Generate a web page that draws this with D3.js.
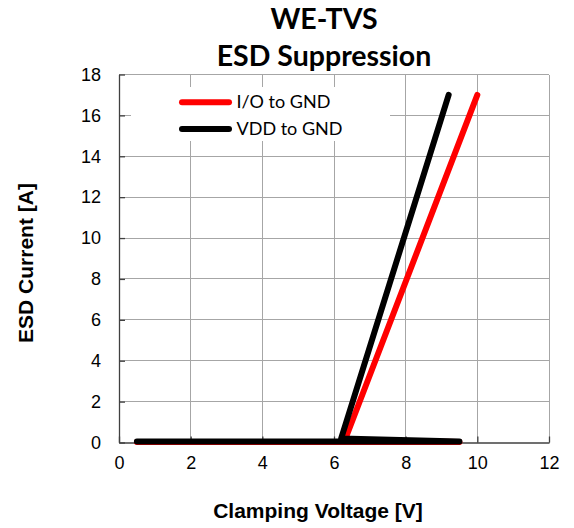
<!DOCTYPE html>
<html>
<head>
<meta charset="utf-8">
<script src="https://cdn.jsdelivr.net/npm/d3@7/dist/d3.min.js"></script>
<style>
  html, body { margin: 0; padding: 0; background: #fff; }
  svg { display: block; }
</style>
</head>
<body>
<svg id="chart" width="574" height="528"></svg>
<script>
// ---- data ----
const titleLines = ["WE-TVS", "ESD Suppression"];
const xTicks = [0, 2, 4, 6, 8, 10, 12];
const yTicks = [0, 2, 4, 6, 8, 10, 12, 14, 16, 18];
const seriesNames = ["I/O to GND", "VDD to GND"];
const seriesColors = ["#ff0000", "#000000"];
// points in drawing order (voltage V, current A)
const ioToGnd = [[0.5, 0.03], [9.5, 0.03], [6.3, 0.1], [10.0, 17.0]];
const vddToGnd = [[0.5, 0.05], [9.5, 0.05], [6.2, 0.2], [9.2, 17.0]];
const xLabel = "Clamping Voltage [V]";
const yLabel = "ESD Current [A]";

// ---- layout ----
const svg = d3.select("#chart");
const L = 119, R = 549, T = 74.5, B = 442.5;
const x = d3.scaleLinear().domain([0, 12]).range([L, R]);
const y = d3.scaleLinear().domain([0, 18]).range([B, T]);

// gridlines
const grid = svg.append("g").attr("stroke", "#a6a6a6").attr("stroke-width", 1).attr("shape-rendering", "crispEdges");
grid.selectAll(".gx").data(xTicks.slice(1)).join("line")
  .attr("x1", d => x(d)).attr("x2", d => x(d)).attr("y1", T).attr("y2", B);
grid.selectAll(".gy").data(yTicks.slice(1)).join("line")
  .attr("x1", L).attr("x2", R).attr("y1", d => y(d)).attr("y2", d => y(d));

// axes
const xAxis = d3.axisBottom(x).tickValues(xTicks).tickSizeInner(-6).tickSizeOuter(0).tickPadding(14);
const yAxis = d3.axisLeft(y).tickValues(yTicks).tickSizeInner(-6).tickSizeOuter(0).tickPadding(18);

const gx = svg.append("g").attr("transform", `translate(0,${B})`).call(xAxis);
const gy = svg.append("g").attr("transform", `translate(${L},0)`).call(yAxis);
[gx, gy].forEach(g => {
  g.select(".domain").attr("stroke", "#404040").attr("stroke-width", 1.3);
  g.selectAll(".tick line").attr("stroke", "#404040").attr("stroke-width", 1.3);
  g.selectAll(".tick text").attr("font-family", "'Liberation Sans', Arial, sans-serif")
    .attr("font-size", 18).attr("fill", "#000");
});
gx.selectAll(".tick text").attr("dy", "0.71em");

// lines
const line = d3.line().x(d => x(d[0])).y(d => y(d[1]));
[ioToGnd, vddToGnd].forEach((s, i) => {
  svg.append("path").datum(s).attr("d", line)
    .attr("fill", "none").attr("stroke", seriesColors[i]).attr("stroke-width", 6)
    .attr("stroke-linecap", "round").attr("stroke-linejoin", "round");
});

// legend
const lg = svg.append("g");
lg.append("rect").attr("x", 131).attr("y", 87).attr("width", 259).attr("height", 54).attr("fill", "#fff");
seriesNames.forEach((n, i) => {
  const yy = 102.3 + i * 26.7;
  lg.append("line").attr("x1", 182).attr("x2", 229).attr("y1", yy).attr("y2", yy)
    .attr("stroke", seriesColors[i]).attr("stroke-width", 6).attr("stroke-linecap", "round");
  lg.append("text").attr("x", 236.5).attr("y", yy + 5.6).text(n)
    .attr("font-family", "Lato, 'Open Sans', sans-serif").attr("font-size", 18).attr("fill", "#000");
});

// titles
svg.selectAll(".title").data(titleLines).join("text")
  .attr("x", 324).attr("y", (d, i) => 29 + i * 37).attr("text-anchor", "middle")
  .attr("font-family", "Lato, 'Open Sans', sans-serif").attr("font-weight", "bold").attr("font-size", 28.5)
  .text(d => d);

svg.append("text").attr("x", 318).attr("y", 518).attr("text-anchor", "middle")
  .attr("font-family", "'Liberation Sans', Arial, sans-serif").attr("font-weight", "bold").attr("font-size", 21)
  .text(xLabel);
svg.append("text").attr("transform", "translate(33,263) rotate(-90)").attr("text-anchor", "middle")
  .attr("font-family", "'Liberation Sans', Arial, sans-serif").attr("font-weight", "bold").attr("font-size", 21)
  .text(yLabel);
</script>
</body>
</html>
